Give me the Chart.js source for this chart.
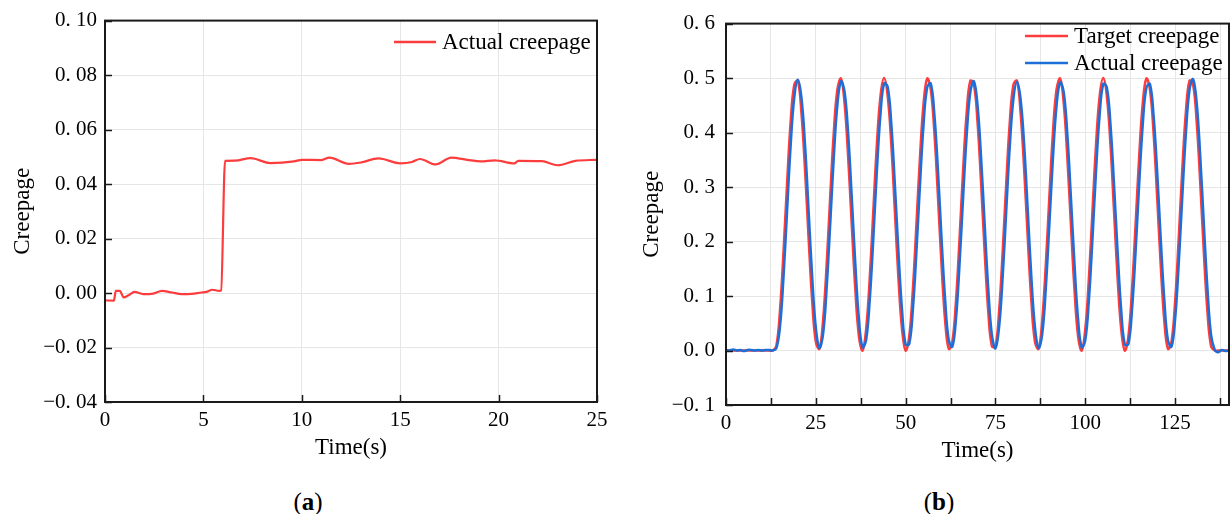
<!DOCTYPE html>
<html>
<head>
<meta charset="utf-8">
<script src="https://cdn.jsdelivr.net/npm/chart.js@4.4.0/dist/chart.umd.min.js"></script>
<style>
  body { margin: 0; background: #fff; width: 1231px; height: 514px; position: relative; overflow: hidden; font-family: 'Liberation Serif', 'Times New Roman', serif; }
  .panel { position: absolute; top: 0; }
  #wrapA { left: 0; }
  #wrapB { left: 615px; }
  .cap { position: absolute; font-size: 25px; line-height: 25px; color: #000; transform: translateX(-50%); }
</style>
</head>
<body>
<div class="panel" id="wrapA"><canvas id="chartA" width="615" height="470"></canvas></div>
<div class="panel" id="wrapB"><canvas id="chartB" width="616" height="470"></canvas></div>
<div class="cap" style="left:308px; top:489px;">(<b>a</b>)</div>
<div class="cap" style="left:939px; top:489px;">(<b>b</b>)</div>
<script>
// ---- panel (a): step response ----
var timeA = [0, 0.45, 0.55, 0.75, 0.95, 1.2, 1.5, 1.95, 2.45, 2.9, 3.4, 3.9, 4.4, 4.9, 5.15,
  5.45, 5.8, 5.9, 6.1, 6.6, 7.4, 8.4, 9.6, 10.0, 11.0, 11.4, 12.4, 13.0, 13.9, 15.0,
  15.6, 16.0, 16.8, 17.6, 18.4, 19.1, 19.8, 20.8, 21.0, 22.2, 23.0, 23.9, 25];
var actualA = [-0.0027, -0.0028, 0.0008, 0.0008, -0.0016, -0.0008, 0.0004, -0.0004, -0.0002, 0.0008, 0.0002, -0.0004, -0.0003, 0.0002, 0.0004,
  0.0012, 0.0008, 0.0010, 0.0485, 0.0486, 0.0495, 0.0477, 0.0483, 0.0489, 0.0488, 0.0497, 0.0474, 0.0479, 0.0494, 0.0476,
  0.0481, 0.0492, 0.0472, 0.0497, 0.0489, 0.0483, 0.0487, 0.0476, 0.0485, 0.0484, 0.0469, 0.0485, 0.0489];
var xTicksA = [0, 5, 10, 15, 20, 25];
var yTicksA = [-0.04, -0.02, 0, 0.02, 0.04, 0.06, 0.08, 0.10];
var yTickLabelsA = ['\u22120. 04', '\u22120. 02', '0. 00', '0. 02', '0. 04', '0. 06', '0. 08', '0. 10'];

// ---- panel (b): sine tracking ----
var timeB = [0, 1, 2, 3, 4, 5, 6, 7, 8, 9, 10, 11, 12, 13, 14, 15, 16, 17, 18, 19,
  20, 21, 22, 23, 24, 25, 26, 27, 28, 29, 30, 31, 32, 33, 34, 35, 36, 37, 38, 39,
  40, 41, 42, 43, 44, 45, 46, 47, 48, 49, 50, 51, 52, 53, 54, 55, 56, 57, 58, 59,
  60, 61, 62, 63, 64, 65, 66, 67, 68, 69, 70, 71, 72, 73, 74, 75, 76, 77, 78, 79,
  80, 81, 82, 83, 84, 85, 86, 87, 88, 89, 90, 91, 92, 93, 94, 95, 96, 97, 98, 99,
  100, 101, 102, 103, 104, 105, 106, 107, 108, 109, 110, 111, 112, 113, 114, 115, 116, 117, 118, 119,
  120, 121, 122, 123, 124, 125, 126, 127, 128, 129, 130, 131, 132, 133, 134, 135, 136, 137, 138, 139, 140];
var targetB = [0, 0, 0, 0, 0, 0, 0, 0, 0, 0, 0, 0, 0, 0,
  0.008, 0.071, 0.180, 0.307, 0.420, 0.488, 0.495, 0.436, 0.331, 0.205, 0.090, 0.016,
  0.003, 0.054, 0.156, 0.282, 0.400, 0.479, 0.499, 0.454, 0.355, 0.231, 0.111, 0.026,
  0.000, 0.039, 0.132, 0.256, 0.379, 0.467, 0.500, 0.467, 0.379, 0.256, 0.132, 0.039, 0.000,
  0.026, 0.111, 0.231, 0.356, 0.454, 0.499, 0.479, 0.400, 0.282, 0.156, 0.054, 0.003,
  0.016, 0.090, 0.205, 0.332, 0.438, 0.495, 0.488, 0.420, 0.307, 0.180, 0.071, 0.008,
  0.008, 0.071, 0.180, 0.307, 0.420, 0.488, 0.495, 0.436, 0.331, 0.205, 0.090, 0.016,
  0.003, 0.054, 0.156, 0.282, 0.400, 0.479, 0.499, 0.454, 0.355, 0.231, 0.111, 0.026,
  0.000, 0.039, 0.132, 0.256, 0.379, 0.467, 0.500, 0.467, 0.379, 0.256, 0.132, 0.039, 0.000,
  0.026, 0.111, 0.231, 0.356, 0.454, 0.499, 0.479, 0.400, 0.282, 0.156, 0.054, 0.003,
  0.016, 0.090, 0.205, 0.332, 0.438, 0.495, 0.488, 0.420, 0.307, 0.180, 0.071, 0.008,
  0, 0, 0, 0, 0];
var actualB = [0.001, 0.000, 0.002, 0.000, 0.001, -0.001, 0.001, 0.001, 0.000, 0.001, 0.000, 0.001, 0.001, 0.000,
  0.004, 0.042, 0.134, 0.256, 0.377, 0.464, 0.497, 0.464, 0.377, 0.256, 0.134, 0.042, 0.005,
  0.029, 0.113, 0.231, 0.354, 0.451, 0.494, 0.475, 0.398, 0.282, 0.158, 0.057, 0.006,
  0.019, 0.092, 0.205, 0.330, 0.434, 0.490, 0.484, 0.417, 0.305, 0.181, 0.074, 0.011,
  0.012, 0.074, 0.181, 0.305, 0.416, 0.483, 0.490, 0.433, 0.330, 0.205, 0.093, 0.019,
  0.007, 0.057, 0.158, 0.281, 0.396, 0.474, 0.494, 0.451, 0.354, 0.231, 0.113, 0.029,
  0.004, 0.042, 0.134, 0.256, 0.376, 0.462, 0.493, 0.461, 0.376, 0.256, 0.134, 0.042, 0.005,
  0.029, 0.113, 0.231, 0.353, 0.449, 0.492, 0.474, 0.397, 0.281, 0.158, 0.057, 0.006,
  0.019, 0.092, 0.205, 0.330, 0.433, 0.489, 0.483, 0.416, 0.305, 0.181, 0.074, 0.011,
  0.012, 0.074, 0.181, 0.305, 0.415, 0.482, 0.489, 0.432, 0.329, 0.205, 0.093, 0.019,
  0.007, 0.057, 0.158, 0.282, 0.398, 0.478, 0.498, 0.455, 0.356, 0.232, 0.114, 0.029,
  0.002, -0.003, 0.001, -0.001, 0.000];
var xTicksB = [0, 12.5, 25, 37.5, 50, 62.5, 75, 87.5, 100, 112.5, 125, 137.5];
var yTicksB = [-0.1, 0, 0.1, 0.2, 0.3, 0.4, 0.5, 0.6];
var yTickLabelsB = ['\u22120. 1', '0. 0', '0. 1', '0. 2', '0. 3', '0. 4', '0. 5', '0. 6'];

var RED = '#fb3d3d';
var BLUE = '#1c6fd9';
var SERIF = "'Liberation Serif', 'Times New Roman', serif";

function pts(xs, ys) {
  var out = [];
  for (var i = 0; i < xs.length; i++) out.push({x: xs[i], y: ys[i]});
  return out;
}

// box frame, inward ticks and the legend inside the plot
var framePlugin = {
  id: 'frame',
  afterDatasetsDraw: function(chart, args, opts) {
    var ctx = chart.ctx, a = chart.chartArea;
    var sx = chart.scales.x, sy = chart.scales.y;
    ctx.save();
    ctx.strokeStyle = '#1a1a1a';
    ctx.lineWidth = 1.5;
    ctx.beginPath();
    sx.ticks.forEach(function(t) {
      var px = Math.round(sx.getPixelForValue(t.value)) + 0.5;
      ctx.moveTo(px, a.bottom); ctx.lineTo(px, a.bottom - 7);
    });
    sy.ticks.forEach(function(t) {
      var py = Math.round(sy.getPixelForValue(t.value)) + 0.5;
      ctx.moveTo(a.left, py); ctx.lineTo(a.left + 7, py);
    });
    ctx.stroke();
    ctx.lineWidth = 2;
    ctx.strokeRect(a.left, a.top, a.right - a.left, a.bottom - a.top);

    ctx.font = '23px ' + SERIF;
    ctx.textBaseline = 'middle';
    ctx.textAlign = 'left';
    chart.data.datasets.forEach(function(ds, i) {
      var y = opts.y + i * opts.row;
      ctx.strokeStyle = ds.borderColor;
      ctx.lineWidth = 2.5;
      ctx.beginPath();
      ctx.moveTo(opts.x1, y); ctx.lineTo(opts.x2, y);
      ctx.stroke();
      ctx.fillStyle = '#000';
      ctx.fillText(ds.label, opts.tx, y + 1);
    });
    ctx.restore();
  }
};

function axisOpts(min, max, ticks, labelFn, pad, title, titlePad, fitSize, vertical) {
  var o = {
    type: 'linear',
    min: min,
    max: max,
    afterBuildTicks: function(scale) {
      scale.ticks = ticks.map(function(v) { return {value: v}; });
    },
    afterFit: function(scale) {
      if (vertical) scale.width = fitSize; else scale.height = fitSize;
    },
    grid: { color: '#e6e6e6', lineWidth: 1, drawTicks: false },
    border: { display: false },
    ticks: {
      autoSkip: false,
      maxRotation: 0,
      padding: pad,
      color: '#000',
      font: { family: SERIF, size: 21 },
      callback: labelFn
    },
    title: {
      display: true,
      text: title,
      color: '#000',
      font: { family: SERIF, size: 23 },
      padding: titlePad
    }
  };
  return o;
}

new Chart(document.getElementById('chartA'), {
  type: 'line',
  data: {
    datasets: [{
      label: 'Actual creepage',
      data: pts(timeA, actualA),
      borderColor: RED,
      borderWidth: 2.2,
      pointRadius: 0,
      cubicInterpolationMode: 'monotone'
    }]
  },
  options: {
    responsive: false,
    animation: false,
    layout: { padding: { top: 20, right: 18, left: 0, bottom: 0 } },
    plugins: {
      legend: { display: false },
      tooltip: { enabled: false },
      frame: { x1: 394, x2: 436, tx: 442, y: 42, row: 27 }
    },
    scales: {
      x: axisOpts(0, 25, xTicksA, function(v) { return String(v); }, 6, 'Time(s)', { bottom: 8 }, 68, false),
      y: axisOpts(-0.04, 0.10, yTicksA, function(v, i) { return yTickLabelsA[i]; }, 8, 'Creepage', { top: 9 }, 105, true)
    }
  },
  plugins: [framePlugin]
});

new Chart(document.getElementById('chartB'), {
  type: 'line',
  data: {
    datasets: [{
      label: 'Target creepage',
      data: pts(timeB, targetB),
      borderColor: RED,
      borderWidth: 2.5,
      pointRadius: 0,
      tension: 0.4,
      order: 1
    }, {
      label: 'Actual creepage',
      data: pts(timeB, actualB),
      borderColor: BLUE,
      borderWidth: 2.5,
      pointRadius: 0,
      tension: 0.4,
      order: 0
    }]
  },
  options: {
    responsive: false,
    animation: false,
    layout: { padding: { top: 23, right: 2, left: 0, bottom: 0 } },
    plugins: {
      legend: { display: false },
      tooltip: { enabled: false },
      frame: { x1: 410, x2: 453, tx: 459, y: 36, row: 27 }
    },
    scales: {
      x: axisOpts(0, 140, xTicksB, function(v) { return v % 25 === 0 ? String(v) : ''; }, 6, 'Time(s)', { bottom: 5 }, 65, false),
      y: axisOpts(-0.1, 0.6, yTicksB, function(v, i) { return yTickLabelsB[i]; }, 11, 'Creepage', { top: 23 }, 111, true)
    }
  },
  plugins: [framePlugin]
});
</script>
</body>
</html>
